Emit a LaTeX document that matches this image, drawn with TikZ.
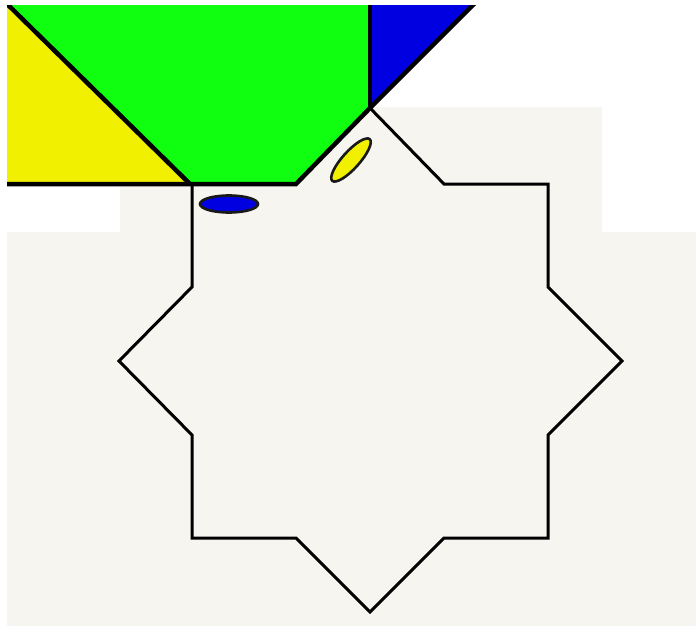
\documentclass[tikz,border=0pt]{standalone}
\usepackage{tikz}

\definecolor{paper}{RGB}{246,245,239}
\definecolor{tilegreen}{RGB}{16,255,16}
\definecolor{tileyellow}{RGB}{240,240,0}
\definecolor{tileblue}{RGB}{0,0,224}

\begin{document}
\begin{tikzpicture}[x=1pt,y=-1pt,
	tile/.style={draw=black,line width=4.5pt,line join=miter},
	starline/.style={draw=black,line width=3pt,line join=miter},
	bead/.style={draw=black!90,line width=2.6pt}]
	\useasboundingbox (0,0) rectangle (696,626);
	% background
	\fill[paper] (7,232) rectangle (696,626);
	\fill[paper] (120,107) rectangle (602,232);
	% star vertices
	\coordinate (top) at (370,108);
	\coordinate (s1) at (444,184); \coordinate (s2) at (548,184); \coordinate (s3) at (548,287);
	\coordinate (right) at (622,361);
	\coordinate (s5) at (548,435); \coordinate (s6) at (548,538); \coordinate (s7) at (444,538);
	\coordinate (bottom) at (370,612);
	\coordinate (s9) at (296,538); \coordinate (s10) at (192,538); \coordinate (s11) at (192,435);
	\coordinate (left) at (119,361);
	\coordinate (s13) at (192,287); \coordinate (s14) at (192,184); \coordinate (s15) at (296,184);
	\draw[starline] (top) -- (s1) -- (s2) -- (s3) -- (right) -- (s5) -- (s6) -- (s7) -- (bottom)
		-- (s9) -- (s10) -- (s11) -- (left) -- (s13) -- (s14) -- (s15) -- cycle;
	% tiles above the star
	\begin{scope}
		\clip (7,6) rectangle (696,626);
		\fill[tileyellow] (0,-3) -- (190,184) -- (0,184) -- cycle;
		\fill[tilegreen] (0,-3) -- (370,-3) -- (top) -- (s15) -- (190,184) -- cycle;
		\fill[tileblue] (370,-3) -- (481,-3) -- (top) -- cycle;
		\draw[tile] (0,-3) -- (190,184);
		\draw[tile] (0,184) -- (s15) -- (top) -- (481,-3);
		\draw[tile] (top) -- (370,-3);
	\end{scope}
	% beads
	\draw[bead,fill=tileblue] (229,204) ellipse [x radius=29,y radius=8.5];
	\draw[bead,fill=tileyellow,rotate around={48:(351,160)}] (351,160) ellipse [x radius=28,y radius=8.5];
\end{tikzpicture}
\end{document}
